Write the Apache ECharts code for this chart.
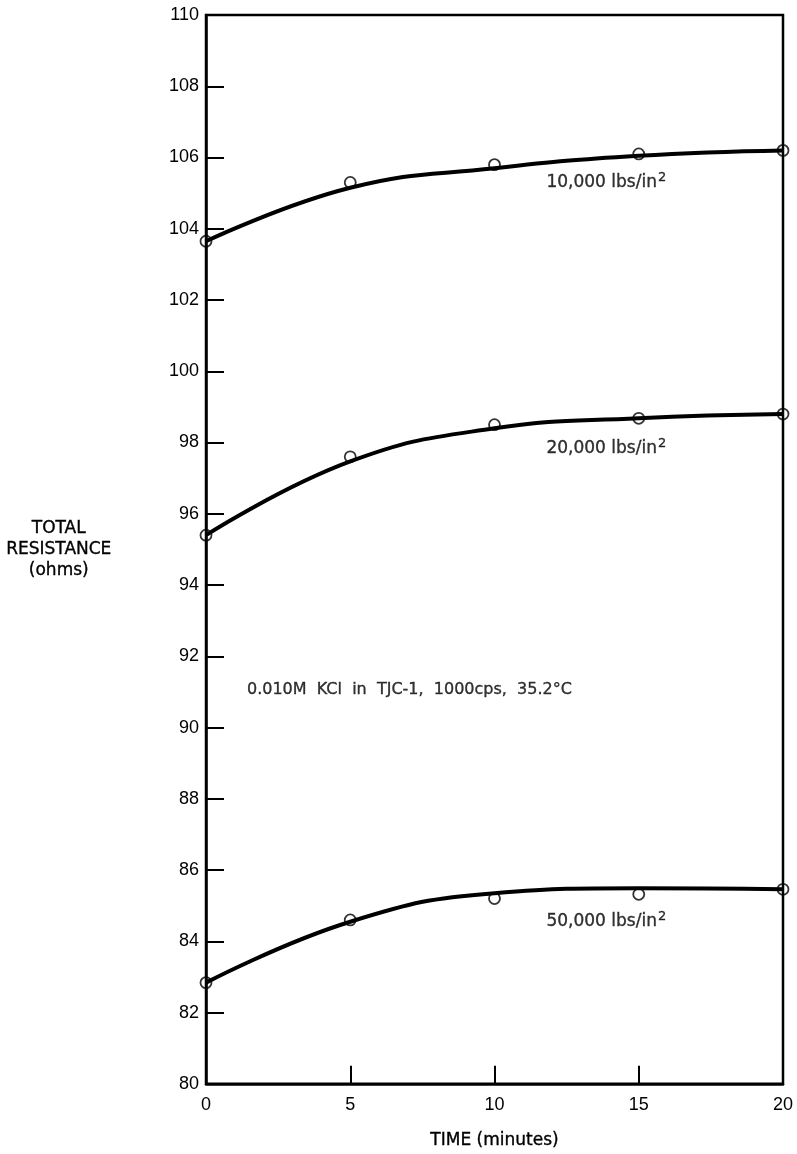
<!DOCTYPE html>
<html>
<head>
<meta charset="utf-8">
<style>
  html, body { margin: 0; padding: 0; background: #ffffff; }
  #chart { width: 797px; height: 1154px; }
</style>
<script src="https://cdn.jsdelivr.net/npm/echarts@6/dist/echarts.min.js"></script>
</head>
<body>
<div id="chart"></div>
<script>
// Time in minutes at which readings were taken
const times = [0, 5, 10, 15, 20];

// Measured total resistance (ohms) at each pressure
const measured10k = [103.65, 105.3, 105.8, 106.1, 106.2];
const measured20k = [95.4, 97.6, 98.5, 98.68, 98.8];
const measured50k = [82.84, 84.6, 85.2, 85.32, 85.46];

// Smoothed trend curves through the readings
const curve10k = [103.65, 105.15, 105.7, 106.05, 106.2];
const curve20k = [95.4, 97.47, 98.4, 98.68, 98.8];
const curve50k = [82.84, 84.55, 85.35, 85.49, 85.46];

// Axis tick values
const xTicks = [0, 5, 10, 15, 20];
const yTicks = [80, 82, 84, 86, 88, 90, 92, 94, 96, 98, 100, 102, 104, 106, 108, 110];

const seriesLabels = ['10,000', '20,000', '50,000'];
const noteText = '0.010M  KCl  in  TJC-1,  1000cps,  35.2°C';

const FONT = '"Liberation Sans", "DejaVu Sans", sans-serif';
const WIDE = '"DejaVu Sans", "Liberation Sans", sans-serif';
const INK = '#000000';

function pairs(xs, ys) { return xs.map((x, i) => [x, ys[i]]); }

function curveSeries(values) {
  return {
    type: 'line', data: pairs(times, values), smooth: 0.45,
    showSymbol: false, silent: true,
    lineStyle: { color: INK, width: 4 }, z: 3
  };
}
function pointSeries(values) {
  return {
    type: 'scatter', data: pairs(times, values), symbol: 'circle', symbolSize: 11,
    itemStyle: { color: 'rgba(255,255,255,0)', borderColor: INK, borderWidth: 1.8 },
    z: 4, clip: false
  };
}
// Text style shared by the in-plot annotations (slightly heavier strokes)
const inkText = { color: INK, textBorderColor: INK, textBorderWidth: 0.35 };

function pressureLabel(text, x, y) {
  return {
    type: 'scatter', data: [[x, y]], symbolSize: 0, silent: true,
    label: {
      show: true, position: 'right', distance: 0,
      formatter: '{t|' + text + ' lbs/in}{s|2}',
      rich: {
        t: Object.assign({ fontFamily: WIDE, fontSize: 17 }, inkText),
        s: Object.assign({ fontFamily: WIDE, fontSize: 13, padding: [0, 0, 10, 1] }, inkText)
      }
    }
  };
}

const chart = echarts.init(document.getElementById('chart'), null, { renderer: 'canvas' });
chart.setOption({
  backgroundColor: '#ffffff',
  animation: false,
  grid: { left: 206, right: 14, top: 15, bottom: 67, show: true, borderColor: INK, borderWidth: 2.5 },
  xAxis: {
    type: 'value', min: 0, max: 20, interval: 5,
    name: 'TIME (minutes)', nameLocation: 'middle', nameGap: 48,
    nameTextStyle: Object.assign({ fontFamily: WIDE, fontSize: 17 }, inkText),
    axisLine: { show: true, lineStyle: { color: INK, width: 2.5 } },
    axisTick: { show: true, inside: true, length: 18, lineStyle: { color: INK, width: 2 },
      customValues: xTicks.slice(1, -1) },
    axisLabel: { fontFamily: FONT, fontSize: 18, color: INK, margin: 12, customValues: xTicks },
    splitLine: { show: false }
  },
  yAxis: {
    type: 'value', min: 80, max: 110, interval: 2,
    axisLine: { show: true, lineStyle: { color: INK, width: 2.5 } },
    axisTick: { show: true, inside: true, length: 18, lineStyle: { color: INK, width: 2 },
      customValues: yTicks.slice(1, -1) },
    axisLabel: { fontFamily: FONT, fontSize: 18, color: INK, margin: 7, customValues: yTicks },
    splitLine: { show: false }
  },
  graphic: [
    {
      type: 'text', left: 6, top: 518,
      style: {
        text: 'TOTAL\nRESISTANCE\n(ohms)', font: '17px ' + WIDE, fill: INK,
        stroke: INK, lineWidth: 0.35,
        textAlign: 'center', lineHeight: 21, x: 54
      }
    }
  ],
  series: [
    curveSeries(curve10k), pointSeries(measured10k),
    curveSeries(curve20k), pointSeries(measured20k),
    curveSeries(curve50k), pointSeries(measured50k),
    pressureLabel(seriesLabels[0], 11.8, 105.3),
    pressureLabel(seriesLabels[1], 11.8, 97.84),
    pressureLabel(seriesLabels[2], 11.8, 84.55),
    {
      type: 'scatter', data: [[1.42, 91.05]], symbolSize: 0, silent: true,
      label: Object.assign({ show: true, position: 'right', distance: 0, formatter: noteText,
        fontFamily: WIDE, fontSize: 16 }, inkText)
    }
  ]
});
</script>
</body>
</html>
